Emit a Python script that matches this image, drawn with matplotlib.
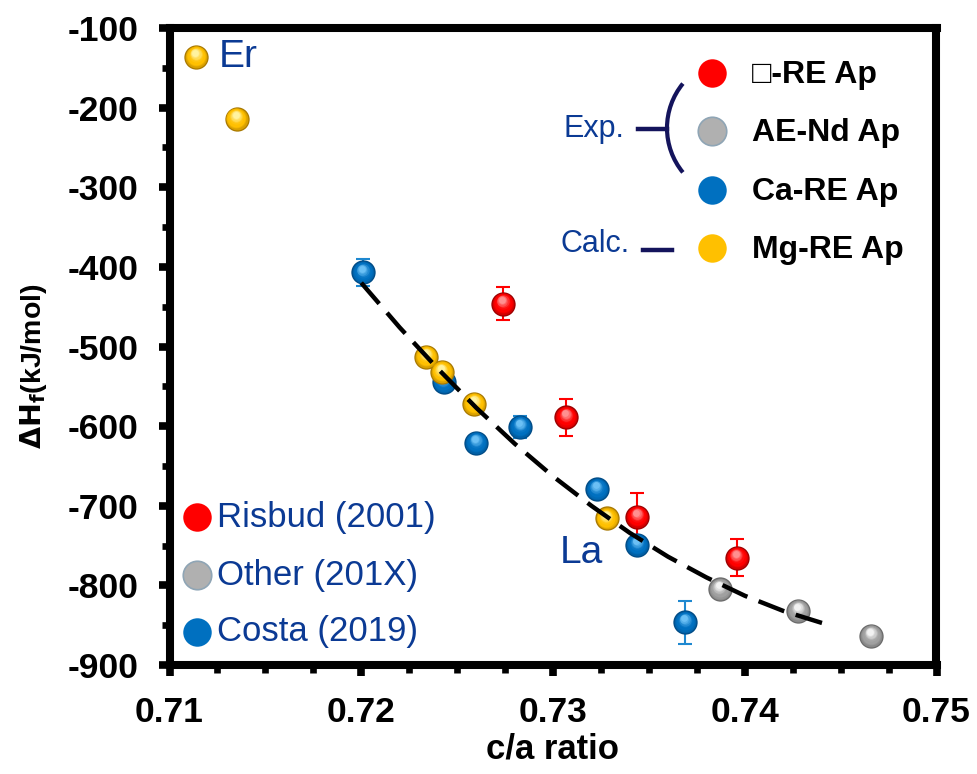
import numpy as np
import matplotlib
matplotlib.use("Agg")
import matplotlib.pyplot as plt
from matplotlib.lines import Line2D
from matplotlib.patches import Arc
from matplotlib.transforms import ScaledTranslation
from matplotlib.ticker import MultipleLocator, FuncFormatter
import matplotlib.colors as mcolors

plt.rcParams['font.family'] = ['Liberation Sans', 'DejaVu Sans']

# ---------------- data ----------------
mg_x = [0.7114, 0.7135, 0.7234, 0.7242, 0.7259, 0.7328]
mg_y = [-136, -214, -513, -532, -572, -716]

costa_x = [0.7201, 0.7243, 0.7260, 0.7283, 0.7323, 0.7344, 0.7369]
costa_y = [-407, -545, -621, -601, -679, -749, -846]
costa_err = [17, 8, 8, 14, 8, 8, 27]

risbud_x = [0.7274, 0.7307, 0.7344, 0.7396]
risbud_y = [-446, -589, -714, -765]
risbud_err = [21, 23, 30, 23]

other_x = [0.7387, 0.7428, 0.7466]
other_y = [-805, -832, -863]

fit_x = [0.7200, 0.7220, 0.7240, 0.7260, 0.7280, 0.7300, 0.7320, 0.7340,
         0.7360, 0.7380, 0.7400, 0.7420, 0.7440, 0.7446]
fit_y = [-420, -476, -528, -577, -622, -663, -700, -734,
         -764, -790, -813, -832, -847, -851]

legend_labels = ['\u25a1-RE Ap', 'AE-Nd Ap', 'Ca-RE Ap', 'Mg-RE Ap']
source_labels = ['Risbud (2001)', 'Other (201X)', 'Costa (2019)']

C_RED = '#FF0000'
C_BLUE = '#0070C0'
C_YEL = '#FFC000'
TXT_BLUE = '#0B3A94'
NAVY = '#14145C'

W, H = 977, 774
fig = plt.figure(figsize=(W / 100, H / 100), dpi=100)
ax = fig.add_axes([169.5 / W, 1 - 665 / H, (936.5 - 169.5) / W, (665 - 28) / H])


def blend(c1, c2, t):
    a = np.array(mcolors.to_rgb(c1))
    b = np.array(mcolors.to_rgb(c2))
    return tuple(a * (1 - t) + b * t)


def balls(xs, ys, base, dark, light, z, s=17.5):
    ax.plot(xs, ys, 'o', ms=s, color=dark, mec='none', zorder=z, clip_on=False)
    n = 9
    for k in range(n):
        t = k / (n - 1)
        size = s * (0.9 - 0.62 * t)
        dy = s * 0.16 * t
        dx = -s * 0.04 * t
        if t < 0.45:
            col = blend(dark, base, min(1, 0.55 + t * 2))
        else:
            col = blend(base, light, (t - 0.45) / 0.55)
        tr = ax.transData + ScaledTranslation(dx / 72, dy / 72, fig.dpi_scale_trans)
        ax.plot(xs, ys, 'o', ms=size, color=col, mec='none', zorder=z + 0.01 * (k + 1),
                transform=tr, clip_on=False)


# error bars
ax.errorbar(risbud_x, risbud_y, yerr=risbud_err, fmt='none', ecolor=C_RED,
            elinewidth=1.5, capsize=5, capthick=1.5, zorder=2)
ax.errorbar(costa_x, costa_y, yerr=costa_err, fmt='none', ecolor='#1E88D0',
            elinewidth=1.5, capsize=5, capthick=1.5, zorder=2)

balls(risbud_x, risbud_y, C_RED, '#9A0000', '#FF9090', 3)
balls(other_x, other_y, '#A0A0A0', '#6A6A6A', '#F2F2F2', 3)
balls(costa_x, costa_y, C_BLUE, '#004B85', '#6BC0F5', 4)
balls(mg_x, mg_y, C_YEL, '#A87800', '#FFF3A0', 5)

# fitted trend
ax.plot(fit_x, fit_y, color='black', lw=3.2, ls=(0, (6.2, 2.7)), zorder=10,
        dash_capstyle='butt')

ax.set_xlim(0.71, 0.75)
ax.set_ylim(-900, -100)
ax.xaxis.set_major_locator(MultipleLocator(0.01))
ax.xaxis.set_minor_locator(MultipleLocator(0.0025))
ax.yaxis.set_major_locator(MultipleLocator(100))
ax.yaxis.set_minor_locator(MultipleLocator(50))
ax.xaxis.set_major_formatter(FuncFormatter(lambda v, p: f'{v:.2f}'))
ax.yaxis.set_major_formatter(FuncFormatter(lambda v, p: f'{v:.0f}'))

for sp in ax.spines.values():
    sp.set_linewidth(5.8)
    sp.set_color('black')
ax.tick_params(which='major', direction='out', length=8, width=5.5, pad=14,
               labelsize=25.5, top=False, right=False)
ax.tick_params(which='minor', direction='out', length=5.5, width=4.8,
               top=False, right=False)
for lab in ax.get_xticklabels() + ax.get_yticklabels():
    lab.set_fontweight('bold')

ax.set_xlabel('c/a ratio', fontsize=25, fontweight='bold', labelpad=3)
fig.text(34 / W, 1 - 366 / H, r'$\mathbf{\Delta H_f}$' + '(kJ/mol)', rotation=90,
         fontsize=20.5, fontweight='bold', ha='center', va='center')


def fp(x, y):
    return (x / W, 1 - y / H)


# Er / La annotations
fig.text(*fp(219, 57), 'Er', fontsize=28, color=TXT_BLUE, ha='left', va='center')
fig.text(*fp(560, 553), 'La', fontsize=28, color=TXT_BLUE, ha='left', va='center')

# right-hand legend
leg_cols = [C_RED, '#B0B0B0', C_BLUE, C_YEL]
leg_y = [73, 131, 190, 248]
for lab, col, yy in zip(legend_labels, leg_cols, leg_y):
    ec = '#8FA5B5' if lab.startswith('AE') else 'none'
    fig.add_artist(Line2D([712 / W], [1 - yy / H], marker='o', ms=20.5, color=col,
                          mec=ec, mew=1.2, ls='none'))
    fig.text(*fp(752, yy + 2), lab, fontsize=23, fontweight='bold', color='black',
             ha='left', va='center')

fig.text(*fp(563, 129), 'Exp.', fontsize=22, color=TXT_BLUE, ha='left', va='center')
fig.text(*fp(561, 244), 'Calc.', fontsize=22, color=TXT_BLUE, ha='left', va='center')
fig.add_artist(Line2D([638 / W, 667 / W], [1 - 129 / H] * 2, color=NAVY, lw=3.2))
fig.add_artist(Line2D([643 / W, 672 / W], [1 - 250 / H] * 2, color=NAVY, lw=3.2))
fig.add_artist(Arc(fp(737, 128), 140 / W, 140 / H, theta1=134, theta2=226,
                   transform=fig.transFigure, color=NAVY, lw=3.0))

# left-hand source legend
src_cols = [C_RED, '#B0B0B0', C_BLUE]
src_y = [517, 575, 632]
for lab, col, yy in zip(source_labels, src_cols, src_y):
    ec = '#8FA5B5' if lab.startswith('Other') else 'none'
    fig.add_artist(Line2D([197 / W], [1 - yy / H], marker='o', ms=20.5, color=col,
                          mec=ec, mew=1.2, ls='none'))
    fig.text(*fp(217, yy), lab, fontsize=25, color=TXT_BLUE, ha='left', va='center')

fig.savefig('out.png', dpi=100)
